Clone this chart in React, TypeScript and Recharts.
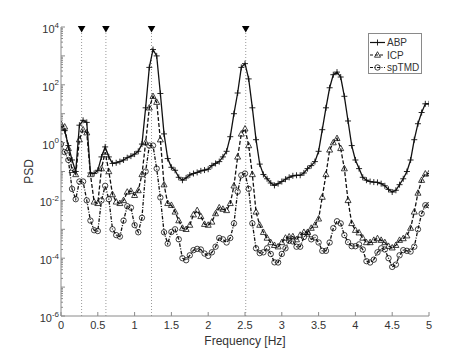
import { Label, Legend, Line, LineChart, ReferenceDot, ReferenceLine, XAxis, YAxis } from 'recharts';

// frequency grid [Hz]
const freqs = [
  0, 0.05, 0.1, 0.15, 0.2, 0.25, 0.3, 0.35, 0.4, 0.45,
  0.5, 0.55, 0.6, 0.65, 0.7, 0.75, 0.8, 0.85, 0.9, 0.95,
  1, 1.05, 1.1, 1.15, 1.2, 1.25, 1.3, 1.35, 1.4, 1.45,
  1.5, 1.55, 1.6, 1.65, 1.7, 1.75, 1.8, 1.85, 1.9, 1.95,
  2, 2.05, 2.1, 2.15, 2.2, 2.25, 2.3, 2.35, 2.4, 2.45,
  2.5, 2.55, 2.6, 2.65, 2.7, 2.75, 2.8, 2.85, 2.9, 2.95,
  3, 3.05, 3.1, 3.15, 3.2, 3.25, 3.3, 3.35, 3.4, 3.45,
  3.5, 3.55, 3.6, 3.65, 3.7, 3.75, 3.8, 3.85, 3.9, 3.95,
  4, 4.05, 4.1, 4.15, 4.2, 4.25, 4.3, 4.35, 4.4, 4.45,
  4.5, 4.55, 4.6, 4.65, 4.7, 4.75, 4.8, 4.85, 4.9, 4.95,
  5,
];

const abp = [
  3.2, 2.6, 0.79, 0.25, 0.1, 4.0, 5.9, 5.0, 0.089, 0.085,
  0.11, 0.32, 0.71, 0.32, 0.19, 0.2, 0.22, 0.25, 0.3, 0.34,
  0.4, 0.5, 0.89, 16, 400, 1660, 1000, 50, 2.0, 0.28,
  0.14, 0.11, 0.063, 0.05, 0.06, 0.076, 0.085, 0.093, 0.105, 0.112,
  0.12, 0.16, 0.19, 0.22, 0.32, 0.5, 1.6, 10, 52, 400,
  540, 160, 16, 1.26, 0.18, 0.079, 0.056, 0.04, 0.033, 0.038,
  0.045, 0.054, 0.063, 0.071, 0.074, 0.074, 0.089, 0.126, 0.16, 0.22,
  0.5, 2.8, 16, 79, 224, 275, 186, 40, 5.6, 0.79,
  0.25, 0.126, 0.063, 0.05, 0.045, 0.043, 0.042, 0.038, 0.032, 0.024,
  0.0195, 0.0224, 0.035, 0.056, 0.1, 0.25, 1.26, 4.5, 11, 22,
  22,
];

const icp = [
  4.3, 3.5, 0.63, 0.11, 0.079, 1.26, 2.8, 2.2, 0.079, 0.0089,
  0.0079, 0.126, 0.47, 0.1, 0.016, 0.0089, 0.0079, 0.01, 0.0195, 0.021,
  0.015, 0.022, 0.079, 1.0, 16, 40, 25, 1.26, 0.035, 0.0079,
  0.0068, 0.004, 0.002, 0.0011, 0.001, 0.0014, 0.0032, 0.0045, 0.0028, 0.0015,
  0.0014, 0.0018, 0.0035, 0.0056, 0.005, 0.0045, 0.0079, 0.032, 0.32, 2.0,
  3.0, 0.79, 0.079, 0.004, 0.0014, 7.9e-4, 5e-4, 3.5e-4, 2.8e-4, 2.5e-4,
  3.5e-4, 5e-4, 5.5e-4, 5.6e-4, 4.4e-4, 6.3e-4, 7.9e-4, 7.9e-4, 0.0011, 0.0014,
  0.0023, 0.013, 0.079, 0.56, 1.0, 1.4, 0.63, 0.126, 0.01, 0.0016,
  9.3e-4, 7.6e-4, 5e-4, 3.5e-4, 3.5e-4, 4.2e-4, 4.8e-4, 4.2e-4, 3.5e-4, 2.6e-4,
  2.3e-4, 2.8e-4, 4.2e-4, 4.8e-4, 6e-4, 0.0011, 0.004, 0.018, 0.05, 0.083,
  0.085,
];

const sptmd = [
  0.89, 0.47, 0.25, 0.025, 0.011, 0.045, 0.045, 0.01, 0.002, 9.3e-4,
  8.7e-4, 0.01, 0.032, 0.011, 0.001, 6.3e-4, 5.6e-4, 0.002, 0.0063, 0.0056,
  0.0014, 7.9e-4, 0.0025, 0.1, 0.79, 0.79, 0.126, 0.0126, 7.9e-4, 3.2e-4,
  8.1e-4, 0.001, 4.5e-4, 1e-4, 8.5e-5, 1.26e-4, 1.9e-4, 2.1e-4, 2e-4, 1.45e-4,
  1.2e-4, 1.6e-4, 2.5e-4, 5e-4, 4.5e-4, 3.5e-4, 5e-4, 0.0016, 0.02, 0.074,
  0.085, 0.025, 0.0016, 2.2e-4, 1.5e-4, 1.6e-4, 2.2e-4, 1.4e-4, 7.2e-5, 7.1e-5,
  1.4e-4, 2.2e-4, 4e-4, 3.8e-4, 2.5e-4, 2.5e-4, 5.4e-4, 7.1e-4, 4.5e-4, 5.2e-4,
  3.5e-4, 1.8e-4, 1.8e-4, 3.5e-4, 0.0011, 0.0019, 0.0016, 6.3e-4, 3.6e-4, 2.6e-4,
  2.6e-4, 3e-4, 2e-4, 7.9e-5, 7.1e-5, 8.9e-5, 1.6e-4, 2.2e-4, 2e-4, 1e-4,
  5e-5, 6e-5, 1.26e-4, 1.9e-4, 1.8e-4, 1.7e-4, 2.5e-4, 0.001, 0.0035, 0.0068,
  0.0068,
];

// dotted marker lines with the black triangles on top
const markerFreqs = [0.28, 0.61, 1.23, 2.51];

const xTicks = [0, 0.5, 1, 1.5, 2, 2.5, 3, 3.5, 4, 4.5, 5];
const yLabelExps = [-6, -4, -2, 0, 2, 4];

const data = freqs.map((f, i) => ({ f, abp: abp[i], icp: icp[i], sptmd: sptmd[i] }));

// decades plus minor 2..9 ticks, like matlab's log axis
const yTicks: number[] = [];
for (let e = -6; e < 4; e++) {
  for (let m = 1; m <= 9; m++) yTicks.push(Number((m * 10 ** e).toPrecision(3)));
}
yTicks.push(1e4);

const INK = '#111';
const AXIS = '#8a8a8a';
const TEXT = '#333';

const isDecade = (v: number) => Math.abs(Math.log10(v) - Math.round(Math.log10(v))) < 1e-6;

function BottomTick({ x, y, payload }: any) {
  return (
    <g>
      <line x1={x} x2={x} y1={y} y2={y - 4} stroke={AXIS} />
      <text x={x} y={y + 13} textAnchor="middle" fontSize={11} fill={TEXT}>
        {String(payload.value)}
      </text>
    </g>
  );
}

function TopTick({ x, y }: any) {
  return <line x1={x} x2={x} y1={y} y2={y + 4} stroke={AXIS} />;
}

function LeftTick({ x, y, payload }: any) {
  const v = payload.value;
  const major = isDecade(v);
  const e = Math.round(Math.log10(v));
  return (
    <g>
      <line x1={x} x2={x + (major ? 4 : 2)} y1={y} y2={y} stroke={AXIS} />
      {major && yLabelExps.includes(e) && (
        <text x={x - 2} y={y + 6} textAnchor="end" fontSize={11} fill={TEXT}>
          10<tspan dy={-5.5} fontSize={8}>{String(e)}</tspan>
        </text>
      )}
    </g>
  );
}

function RightTick({ x, y, payload }: any) {
  const major = isDecade(payload.value);
  return <line x1={x} x2={x - (major ? 4 : 2)} y1={y} y2={y} stroke={AXIS} />;
}

function PlusDot(p: any) {
  const { cx, cy, index } = p;
  if (cx == null || cy == null) return <g key={`a${index}`} />;
  return <path key={`a${index}`} d={`M${cx - 3},${cy}H${cx + 3}M${cx},${cy - 3}V${cy + 3}`} stroke={INK} strokeWidth={0.9} />;
}

function TriDot(p: any) {
  const { cx, cy, index } = p;
  if (cx == null || cy == null) return <g key={`i${index}`} />;
  return <polygon key={`i${index}`} points={`${cx},${cy - 3.3} ${cx - 3},${cy + 2.2} ${cx + 3},${cy + 2.2}`} fill="none" stroke={INK} strokeWidth={0.8} />;
}

function CircleDot(p: any) {
  const { cx, cy, index } = p;
  if (cx == null || cy == null) return <g key={`s${index}`} />;
  return <circle key={`s${index}`} cx={cx} cy={cy} r={2.7} fill="none" stroke={INK} strokeWidth={0.8} />;
}

function PsdLabel({ viewBox }: any) {
  const cx = viewBox.x + 33;
  const cy = viewBox.y + viewBox.height / 2;
  return (
    <text x={cx} y={cy} transform={`rotate(-90 ${cx} ${cy})`} textAnchor="middle" fontSize={12} fill={TEXT}>
      PSD
    </text>
  );
}

function FreqLabel({ viewBox }: any) {
  return (
    <text x={viewBox.x + viewBox.width / 2} y={viewBox.y + 29} textAnchor="middle" fontSize={12} fill={TEXT}>
      Frequency [Hz]
    </text>
  );
}

function LegendBox() {
  const rows = [
    { name: 'ABP', dash: undefined, mark: 'plus' },
    { name: 'ICP', dash: '3 2', mark: 'tri' },
    { name: 'spTMD', dash: '3 1.5 1 1.5', mark: 'circle' },
  ];
  return (
    <svg width={54} height={41} style={{ display: 'block' }}>
      <rect x={0.5} y={0.5} width={53} height={40} fill="#fff" stroke={AXIS} />
      {rows.map((r, i) => {
        const y = 9.5 + i * 12.5;
        return (
          <g key={r.name}>
            <line x1={2} x2={17} y1={y} y2={y} stroke={INK} strokeWidth={1.2} strokeDasharray={r.dash} />
            {r.mark === 'plus' && <PlusDot cx={9.5} cy={y} index={i} />}
            {r.mark === 'tri' && <TriDot cx={9.5} cy={y} index={i} />}
            {r.mark === 'circle' && <CircleDot cx={9.5} cy={y} index={i} />}
            <text x={19} y={y + 3.8} fontSize={10} fill={TEXT}>{r.name}</text>
          </g>
        );
      })}
    </svg>
  );
}

function TriangleMark({ cx, cy }: any) {
  return <polygon points={`${cx - 3.8},${cy - 1} ${cx + 3.8},${cy - 1} ${cx},${cy + 5.5}`} fill="#000" />;
}

export default function App() {
  return (
    <div style={{ width: 474, height: 355, background: '#fff', fontFamily: '"Liberation Sans", Arial, sans-serif' }}>
      <style>{'body{margin:0}'}</style>
      <LineChart width={474} height={355} data={data} margin={{ top: 27, right: 45, bottom: 0, left: 0 }}>
        <XAxis
          dataKey="f"
          type="number"
          domain={[0, 5]}
          ticks={xTicks}
          interval={0}
          allowDataOverflow
          height={39}
          tickSize={0}
          tickMargin={0}
          tickLine={false}
          axisLine={{ stroke: AXIS }}
          tick={<BottomTick />}
        >
          <Label content={<FreqLabel />} />
        </XAxis>
        <XAxis
          xAxisId="top"
          orientation="top"
          type="number"
          domain={[0, 5]}
          ticks={xTicks}
          interval={0}
          allowDataOverflow
          height={0}
          tickSize={0}
          tickMargin={0}
          tickLine={false}
          axisLine={{ stroke: AXIS }}
          tick={<TopTick />}
        />
        <YAxis
          type="number"
          scale="log"
          domain={[1e-6, 1e4]}
          ticks={yTicks}
          interval={0}
          allowDataOverflow
          width={61}
          tickSize={0}
          tickMargin={0}
          tickLine={false}
          axisLine={{ stroke: AXIS }}
          tick={<LeftTick />}
        >
          <Label content={<PsdLabel />} />
        </YAxis>
        <YAxis
          yAxisId="right"
          orientation="right"
          type="number"
          scale="log"
          domain={[1e-6, 1e4]}
          ticks={yTicks}
          interval={0}
          allowDataOverflow
          width={0}
          tickSize={0}
          tickMargin={0}
          tickLine={false}
          axisLine={{ stroke: AXIS }}
          tick={<RightTick />}
        />
        {markerFreqs.map((f) => (
          <ReferenceLine key={`l${f}`} x={f} stroke="#9a9a9a" strokeDasharray="1 2" />
        ))}
        <Line dataKey="sptmd" name="spTMD" stroke={INK} strokeWidth={1.3} strokeDasharray="3.5 1.5 1 1.5" dot={CircleDot} isAnimationActive={false} />
        <Line dataKey="icp" name="ICP" stroke={INK} strokeWidth={1.3} strokeDasharray="4 2" dot={TriDot} isAnimationActive={false} />
        <Line dataKey="abp" name="ABP" stroke={INK} strokeWidth={1.3} dot={PlusDot} isAnimationActive={false} />
        {markerFreqs.map((f) => (
          <ReferenceDot key={`d${f}`} x={f} y={1e4} ifOverflow="visible" shape={<TriangleMark />} />
        ))}
        <Legend
          layout="vertical"
          align="center"
          verticalAlign="middle"
          content={() => <LegendBox />}
          wrapperStyle={{ position: 'absolute', left: 368, top: 33, width: 54, height: 41 }}
        />
      </LineChart>
    </div>
  );
}
